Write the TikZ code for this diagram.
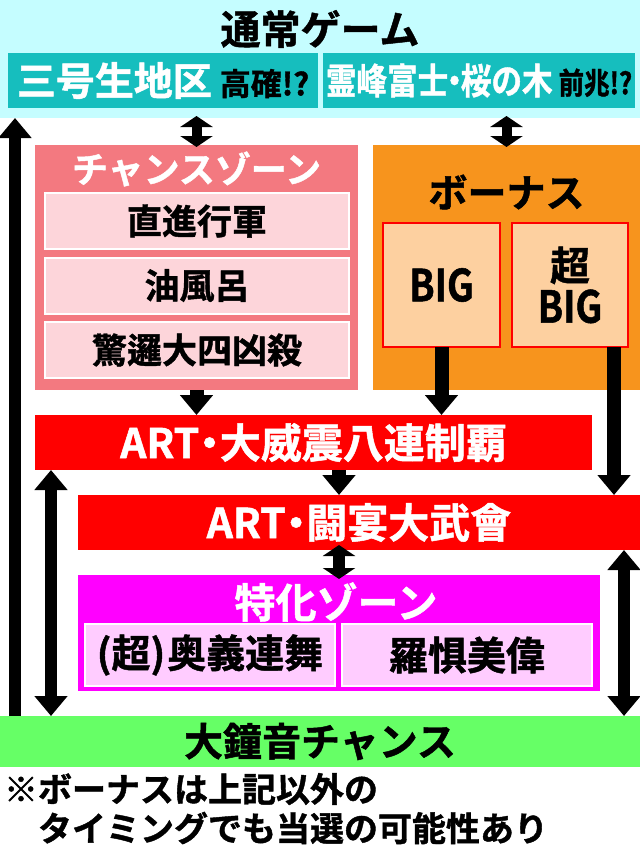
\documentclass[tikz,border=0pt]{standalone}
\usepackage{fontspec}
\setmainfont{Noto Sans CJK JP Bold}[FakeBold=1.2]
\newfontfamily\jpc{Noto Sans CJK JP Bold}[FakeStretch=0.85,FakeBold=1.2]
\usetikzlibrary{arrows.meta,calc}
\definecolor{cyanbg}{RGB}{197,253,255}
\definecolor{tealc}{RGB}{22,190,190}
\definecolor{chancebg}{RGB}{243,121,128}
\definecolor{chancein}{RGB}{253,213,218}
\definecolor{orangec}{RGB}{247,148,29}
\definecolor{peach}{RGB}{253,208,160}
\definecolor{redc}{RGB}{255,0,0}
\definecolor{magc}{RGB}{255,0,255}
\definecolor{magin}{RGB}{255,204,255}
\definecolor{greenc}{RGB}{102,255,102}
\newcommand\fsz[1]{\fontsize{#1pt}{#1pt}\selectfont}
\newcommand\dotk{\kern-0.25em・\kern-0.25em}
\begin{document}
\begin{tikzpicture}[x=1pt,y=-1pt,
  rect/.style 2 args={minimum width=#1pt,minimum height=#2pt,inner sep=0pt,outer sep=0pt,anchor=center},
  lbl/.style={inner sep=0pt,outer sep=0pt,font=\fsz{#1}},
  fat/.style={line width=14pt,-{Triangle[width=32pt,length=20pt]}},
  thin/.style={line width=12pt,-{Triangle[width=32pt,length=20pt]}},
  dbl/.style={line width=12pt,{Triangle[width=32pt,length=20pt]}-{Triangle[width=32pt,length=20pt]}},
  sdbl/.style={line width=10pt,{Triangle[width=32pt,length=11pt]}-{Triangle[width=32pt,length=11pt]}},
  inbox/.style={draw=white,line width=2pt}]
\useasboundingbox (0,0) rectangle (640,849);
% top area
\node[rect={640}{118},fill=cyanbg] (top) at (320,59) {};
\node[lbl=40] (title) at (320,29) {通常ゲーム};
\node[rect={310}{55},fill=tealc,text=white] (tealL) at (163,80.5)
  {\fsz{39}三号生地区\hspace{8pt}{\color{black}\fsz{31}高確!?}};
\node[rect={312}{55},fill=tealc,text=white] (tealR) at (479,80.5)
  {\jpc\fsz{36}霊峰富士\dotk 桜の木\hspace{6pt}{\color{black}\fsz{30}前兆!?}};
% chance zone
\node[rect={323}{245},fill=chancebg] (chance) at (196.5,267.5) {};
\node[lbl=36,text=white] (chancet) at (196.5,169) {チャンスゾーン};
\node[rect={304}{56},fill=chancein,inbox,font=\fsz{35}] (cz1) at (197,221) {直進行軍};
\node[rect={304}{56},fill=chancein,inbox,font=\fsz{35}] (cz2) at (197,285.5) {油風呂};
\node[rect={304}{56},fill=chancein,inbox,font=\fsz{35}] (cz3) at (197,350) {驚邏大四凶殺};
% bonus
\node[rect={267}{245},fill=orangec] (bonus) at (506.5,267.5) {};
\node[lbl=39] (bonust) at (506.5,192) {ボーナス};
\node[rect={117}{124},fill=peach,draw=redc,line width=2pt,font=\jpc\fsz{44}] (big) at (441.5,285) {BIG};
\node[rect={116}{124},fill=peach,draw=redc,line width=2pt,align=center,font=\fsz{44}] (sbig) at (570,285)
  {{\fsz{40}超}\\[-2pt]{\jpc BIG}};
% ART bars
\node[rect={557}{55},fill=redc,text=white,font=\fsz{41}] (art1) at (313.5,442.5) {ART\dotk 大威震八連制覇};
\node[rect={562}{55},fill=redc,text=white,font=\fsz{41}] (art2) at (359,522.5) {ART\dotk 闘宴大武會};
% tokka zone
\node[rect={522}{116},fill=magc] (tokka) at (339,633) {};
\node[lbl=41,text=white] (tokkat) at (336,602) {特化ゾーン};
\node[rect={250}{62},fill=magin,inbox,font=\fsz{39}] (tk1) at (210,655) {(超)\kern2pt 奥義連舞};
\node[rect={250}{62},fill=magin,inbox,font=\fsz{39}] (tk2) at (467,655) {羅惧美偉};
% green
\node[rect={640}{51},fill=greenc,font=\fsz{39}] (green) at (320,741.5) {大鐘音チャンス};
% notes
\node[lbl=34,anchor=west] (note1) at (4,789) {※ボーナスは上記以外の};
\node[lbl=34,anchor=west] (note2) at (38,828) {タイミングでも当選の可能性あり};
% arrow x positions
\coordinate (xL) at (15,0);
\coordinate (xL2) at (51,0);
\coordinate (xM) at (339,0);
\coordinate (xS) at (614,0);
\coordinate (xR) at (624,0);
% arrows
\draw[thin] (green.north -| xL) -- (top.south -| xL);
\draw[sdbl] ([yshift=2pt]top.south -| chance) -- ([yshift=-2pt]chance.north);
\draw[sdbl] ([yshift=2pt]top.south -| bonus) -- ([yshift=-2pt]bonus.north);
\draw[fat] (chance.south) -- (chance.south |- art1.north);
\draw[fat] (big.south) -- (big.south |- art1.north);
\draw[fat] (sbig.south -| xS) -- (art2.north -| xS);
\draw[fat] (art1.south -| xM) -- (art2.north -| xM);
\draw[line width=12pt,{Triangle[width=32pt,length=11pt]}-{Triangle[width=32pt,length=11pt]}] ([yshift=5pt]art2.south -| tokka) -- ([yshift=-4pt]tokka.north);
\draw[dbl] (art1.south -| xL2) -- (green.north -| xL2);
\draw[dbl] (art2.south -| xR) -- (green.north -| xR);
\end{tikzpicture}
\end{document}
